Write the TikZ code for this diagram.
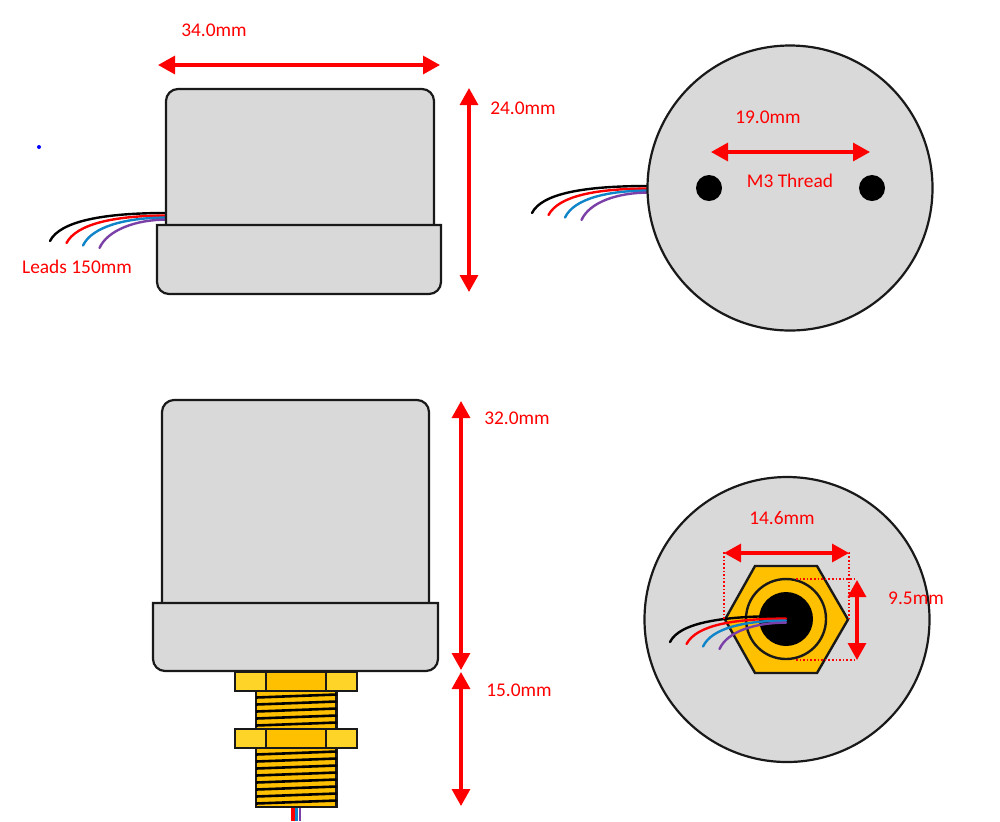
\documentclass[tikz,border=0pt]{standalone}
\usepackage{fontspec}
\setmainfont{Carlito}
\usetikzlibrary{arrows.meta,positioning,calc}
\definecolor{bodygray}{HTML}{D9D9D9}
\definecolor{brassdark}{HTML}{FFC000}
\definecolor{brasslight}{HTML}{FFD428}
\definecolor{leadblue}{HTML}{0F84C8}
\definecolor{leadpurple}{HTML}{7B3FA8}
\newcommand{\drawleads}[4]{%
	\draw[lead,black] (#1,#2) .. controls +(-62,0) and +(10,-20) .. (#3,#4);
	\draw[lead,red] (#1,#2+2.6) .. controls +(-52,0) and +(10,-19) .. (#3+16.5,#4+2);
	\draw[lead,leadblue] (#1,#2+4.6) .. controls +(-40,0) and +(9,-19) .. (#3+33,#4+4.5);
	\draw[lead,leadpurple] (#1,#2+6.6) .. controls +(-30,0) and +(8,-18) .. (#3+49.5,#4+7);
}
\tikzset{
	outline/.style={draw=black!90, line width=1.1pt, fill=bodygray},
	lead/.style={line width=1.2pt, line cap=round},
	dimarrow/.style={red, line width=1.6pt, {Triangle[length=8.5pt,width=9pt]}-{Triangle[length=8.5pt,width=9pt]}},
	dimlabel/.style={text=red, font=\fontsize{9.7}{11}\selectfont, inner sep=0pt},
	guide/.style={red, densely dotted, line width=0.8pt},
	nutoutline/.style={draw=black!90, line width=1.2pt},
}
\begin{document}
\begin{tikzpicture}[x=0.5pt,y=-0.5pt]
	\useasboundingbox (0,0) rectangle (1000,821);
	\fill[white] (0,0) rectangle (1000,821);
	\fill[blue] (39,147) circle (1pt) coordinate (dot);

	% side view, top
	\drawleads{166}{213}{50}{241}
	\draw[outline,rounded corners=6pt] (166,225) -- (166,89) -- (434,89) -- (434,225);
	\draw[outline] (157,225) [rounded corners=6pt] -- (157,294) -- (441,294) [sharp corners] -- (441,225) -- cycle;

	% back view
	\drawleads{648}{186}{532}{213}
	\node[outline,circle,minimum size=142.5pt,inner sep=0pt] (backplate) at (790,188) {};
	\fill[black] (709,188) circle (6.5pt) coordinate (holeleft);
	\fill[black] (872,188) circle (6.5pt) coordinate (holeright);

	% side view, bottom
	\draw[red,line width=1.7pt] (293,807) -- (293,821);
	\draw[leadblue,line width=1.7pt] (296.5,807) -- (296.5,821);
	\draw[leadpurple,line width=0.8pt] (300,807) -- (300,821);
	\draw[nutoutline,fill=brassdark] (256,691) rectangle (336.5,729);
	\draw[nutoutline,fill=brassdark] (256,748) rectangle (336.5,807);
	\foreach \y in {696,703,...,724} {\draw[black,line width=1.3pt] (256,\y+1.5) -- (336.5,\y-1.5);}
	\foreach \y in {753,760,...,802} {\draw[black,line width=1.3pt] (256,\y+1.5) -- (336.5,\y-1.5);}
	\foreach \y in {672,729} {
		\draw[nutoutline,fill=brasslight] (235,\y) rectangle (357,\y+19);
		\draw[nutoutline,fill=brassdark] (266,\y) rectangle (326,\y+19);
	}
	\draw[outline,rounded corners=6pt] (162,603) -- (162,400) -- (429,400) -- (429,603);
	\draw[outline] (153,603) [rounded corners=6pt] -- (153,671) -- (438,671) [sharp corners] -- (438,603) -- cycle;

	% front view
	\node[outline,circle,minimum size=142.5pt,inner sep=0pt] (frontplate) at (787,619.5) {};
	\draw[nutoutline,fill=brassdark] (725,619.5) -- (755,566) -- (817,566) -- (848,619.5) -- (817,673) -- (755,673) -- cycle;
	\draw[nutoutline,fill=brassdark] (786,619) circle (20pt);
	\fill[black] (786,619) circle (13.5pt) coordinate (bore);
	\drawleads{786}{616}{670}{642}
	\draw[guide] (724,619) -- (724,553) -- (849,553) -- (849,619);
	\draw[guide] (796,579) -- (857,579);
	\draw[guide] (796,660) -- (857,660);

	% dimensions
	\coordinate (widthleft) at (158,65);
	\coordinate (widthright) at (440,65);
	\coordinate (heighttop) at (469,88);
	\coordinate (heightbottom) at (469,292);
	\coordinate (threadleft) at (711,152);
	\coordinate (threadright) at (870,152);
	\coordinate (bodytop) at (461,401);
	\coordinate (bodybottom) at (461,670);
	\coordinate (stemtop) at (461,672);
	\coordinate (stembottom) at (461,806);
	\coordinate (hexleft) at (724,553);
	\coordinate (hexright) at (849,553);
	\coordinate (flattop) at (857,580);
	\coordinate (flatbottom) at (857,660);
	\draw[dimarrow] (widthleft) -- (widthright);
	\draw[dimarrow] (heighttop) -- (heightbottom);
	\draw[dimarrow] (threadleft) -- (threadright);
	\draw[dimarrow] (bodytop) -- (bodybottom);
	\draw[dimarrow] (stemtop) -- (stembottom);
	\draw[dimarrow] (hexleft) -- (hexright);
	\draw[dimarrow] (flattop) -- (flatbottom);

	\node[dimlabel] (widthlabel) at (214,30) {34.0mm};
	\node[dimlabel] (heightlabel) at (523,108) {24.0mm};
	\node[dimlabel] (leadslabel) at (77,267) {Leads 150mm};
	\node[dimlabel] (spacinglabel) at (768,117) {19.0mm};
	\node[dimlabel] (threadlabel) at (790,181) {M3 Thread};
	\node[dimlabel] (bodylabel) at (517,418) {32.0mm};
	\node[dimlabel] (stemlabel) at (519,690) {15.0mm};
	\node[dimlabel] (hexlabel) at (782,518) {14.6mm};
	\node[dimlabel] (flatlabel) at (916,598) {9.5mm};
\end{tikzpicture}
\end{document}
